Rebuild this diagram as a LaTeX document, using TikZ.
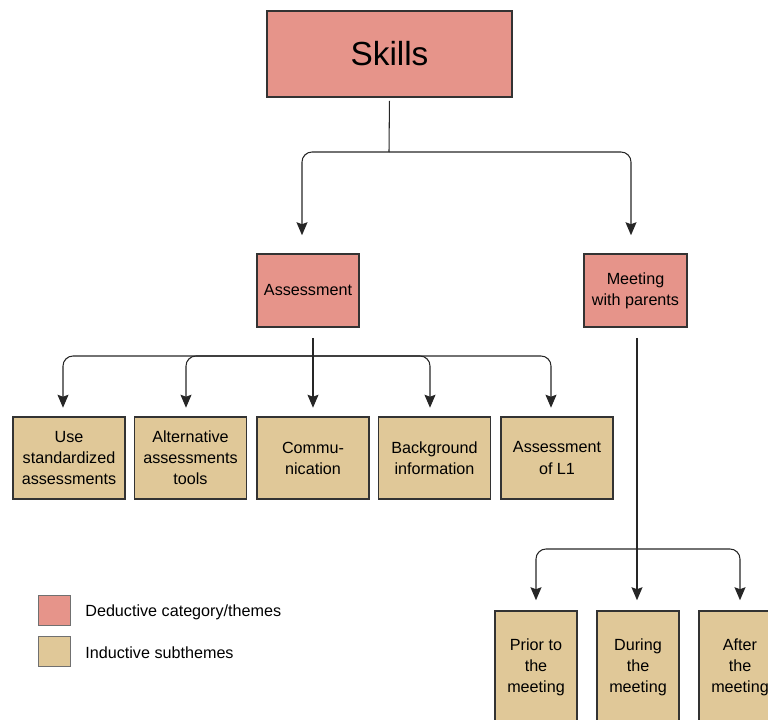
\documentclass[tikz,border=0pt]{standalone}
\usepackage{fontspec}
\setmainfont{Liberation Sans}
\usetikzlibrary{positioning,arrows.meta}
\definecolor{figRouge}{RGB}{230,148,138}
\definecolor{figSable}{RGB}{224,200,152}
\definecolor{figTrait}{RGB}{51,51,51}

\begin{document}
\begin{tikzpicture}[
  x=0.02cm, y=-0.02cm, every node/.style={font=\fontsize{9.2}{12}\selectfont},
  theme/.style={draw=figTrait, line width=0.9pt, fill=figRouge, align=center, inner sep=1pt},
  sub/.style={draw=figTrait, line width=0.9pt, fill=figSable, align=center, inner sep=1pt,
              minimum width=2.24cm, minimum height=1.64cm},
  subv/.style={sub, minimum width=1.64cm, minimum height=2.24cm},
  ln/.style={line width=0.6pt, black!85},
  fl/.style={ln, -{Stealth[length=0.26cm,width=0.22cm,inset=0.04cm]}, rounded corners=0.2cm,
             shorten >=0.17cm},
  leg/.style={draw=figTrait!70, line width=0.5pt, minimum width=0.64cm, minimum height=0.6cm}
]
\useasboundingbox (0,0) rectangle (768,720);
\clip (0,0) rectangle (768,720);

\node[theme, minimum width=4.9cm, minimum height=1.72cm,
      font=\fontsize{19}{22}\selectfont] (skills) at (389.5,54) {Skills};
\node[theme, minimum width=2.04cm, minimum height=1.46cm] (assess) at (308,290.5) {Assessment};
\node[theme, minimum width=2.06cm, minimum height=1.46cm] (meet) at (635.5,290.5) {Meeting\\with parents};

% Sous-themes de l'evaluation, puis ceux de la rencontre (coupes en bas)
\node[sub] (use)  at (69,458)    {Use\\standardized\\assessments};
\node[sub] (alt)  at (190.5,458) {Alternative\\assessments\\tools};
\node[sub] (comm) at (313,458)   {Commu-\\nication};
\node[sub] (back) at (434.5,458) {Background\\information};
\node[sub] (lone) at (557,458)   {Assessment\\of L1};

\node[subv] (prior)  at (536,667) {Prior to\\the\\meeting};
\node[subv] (during) at (638,667) {During\\the\\meeting};
\node[subv] (after)  at (740,667) {After\\the\\meeting};

\node[leg, fill=figRouge] (legded) at (54,610) {};
\node[leg, fill=figSable] (legind) at (54,651) {};
\node[anchor=west, inner sep=0pt] (txded) at (85,612) {Deductive category/themes};
\node[anchor=west, inner sep=0pt] (txind) at (85,653) {Inductive subthemes};

\coordinate (js) at (389,152);
\coordinate (ja) at (313,356);
\coordinate (jm) at (637,549);

\draw[ln, shorten <=0.06cm] (skills.south) -- (js);
\draw[fl, shorten >=0.36cm] (js) -| ([xshift=-0.12cm]assess.north);
\draw[fl, shorten >=0.36cm] (js) -| ([xshift=-0.09cm]meet.north);

\draw[fl, shorten <=0.2cm] (assess.south -| ja) -- (comm.north);
\draw[fl] (ja) -| ([xshift=-0.12cm]use.north);
\draw[fl] (ja) -| ([xshift=-0.09cm]alt.north);
\draw[fl] (ja) -| ([xshift=-0.09cm]back.north);
\draw[fl] (ja) -| ([xshift=-0.12cm]lone.north);

\draw[fl, shorten <=0.2cm, shorten >=0.2cm] (meet.south -| jm) -- (during.north -| jm);
\draw[fl, shorten >=0.2cm] (jm) -| (prior.north);
\draw[fl, shorten >=0.2cm] (jm) -| (after.north);
\end{tikzpicture}
\end{document}
